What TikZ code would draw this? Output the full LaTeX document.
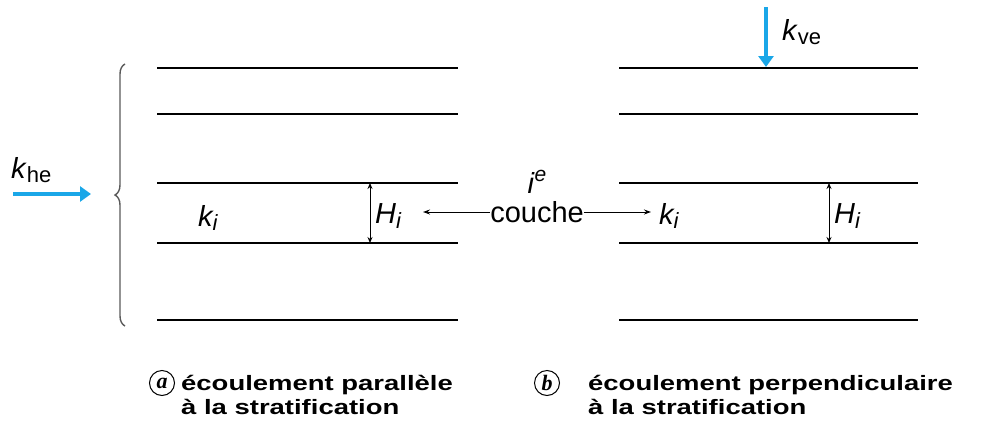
\documentclass[tikz,border=0pt]{standalone}
\usepackage{fontspec}
\setmainfont{Liberation Sans}
\newfontfamily\capfont[FakeStretch=1.32]{Liberation Sans}
\newfontfamily\serifit{Liberation Serif}
\usetikzlibrary{arrows.meta,decorations.pathreplacing}
\definecolor{flowblue}{HTML}{1AA7E8}
\newcommand{\subtx}[1]{\raisebox{-0.3ex}{\fontsize{22}{22}\selectfont #1}}
\tikzset{
  layer/.style={line width=1.5pt, black},
  flow/.style={flowblue, line width=3.5pt, -{Triangle[length=11pt,width=15pt]}},
  dim/.style={line width=1pt, {Stealth[length=6pt,width=5pt]}-{Stealth[length=6pt,width=5pt]}},
  ptr/.style={line width=1pt, -{Stealth[length=7pt,width=5pt]}},
  lbl/.style={inner sep=0pt, font=\fontsize{29}{32}\selectfont},
  captext/.style={inner sep=0pt, align=left, anchor=west, font=\capfont\bfseries\fontsize{20.8}{24}\selectfont},
  circ/.style={draw, circle, line width=1pt, inner sep=0pt, minimum size=25pt, font=\serifit\itshape\bfseries\fontsize{22}{22}\selectfont}
}
\begin{document}
\begin{tikzpicture}[x=1pt,y=-1pt]
\useasboundingbox (0,0) rectangle (981,423);
% layers
\foreach \yy [count=\n] in {68,114,183,243,320}{
  \coordinate (la\n) at (157,\yy);
  \coordinate (lb\n) at (458,\yy);
  \draw[layer] (la\n) -- (lb\n);
  \coordinate (ra\n) at (619,\yy);
  \coordinate (rb\n) at (918,\yy);
  \draw[layer] (ra\n) -- (rb\n);
}
% brace
\coordinate (brt) at (125,64);
\coordinate (brb) at (125,326);
\draw[gray!70!black, line width=1.4pt, decorate, decoration={brace, amplitude=10pt, aspect=0.5}] (brb) -- (brt);
% khe
\coordinate (khs) at (13,194);
\coordinate (khe) at (91,194);
\draw[flow] (khs) -- (khe);
\node[lbl, anchor=west] (khelbl) at (11,170) {\textit{k}\subtx{he}};
% kve
\coordinate (kvs) at (766,7);
\coordinate (kve) at (766,67);
\draw[flow] (kvs) -- (kve);
\node[lbl, anchor=west] (kvelbl) at (782,32) {\textit{k}\subtx{ve}};
% Hi dims
\coordinate (hlt) at (370,183);
\coordinate (hlb) at (370,243);
\draw[dim] (hlt) -- (hlb);
\node[lbl, anchor=west] (hil) at (375,216) {\textit{H\subtx{i}}};
\coordinate (hrt) at (829,183);
\coordinate (hrb) at (829,243);
\draw[dim] (hrt) -- (hrb);
\node[lbl, anchor=west] (hir) at (834,216) {\textit{H\subtx{i}}};
% k_i
\node[lbl, anchor=west] (kil) at (198,218) {\textit{k\subtx{i}}};
\node[lbl, anchor=west] (kir) at (659,216) {\textit{k\subtx{i}}};
% couche
\node[lbl] (ie) at (537,182) {\textit{i}\raisebox{0.75ex}{\fontsize{21}{21}\selectfont\textit{e}}};
\node[lbl] (couche) at (537,212) {couche};
\coordinate (cl) at (423,212);
\coordinate (cr) at (651,212);
\draw[ptr] (couche.west) -- (cl);
\draw[ptr] (couche.east) -- (cr);
% captions
\node[circ] (ca) at (162,383) {a};
\node[captext] (capa) at (181,395) {écoulement parallèle\\à la stratification};
\node[circ] (cb) at (547,383) {b};
\node[captext] (capb) at (588,395) {écoulement perpendiculaire\\à la stratification};
\end{tikzpicture}
\end{document}
